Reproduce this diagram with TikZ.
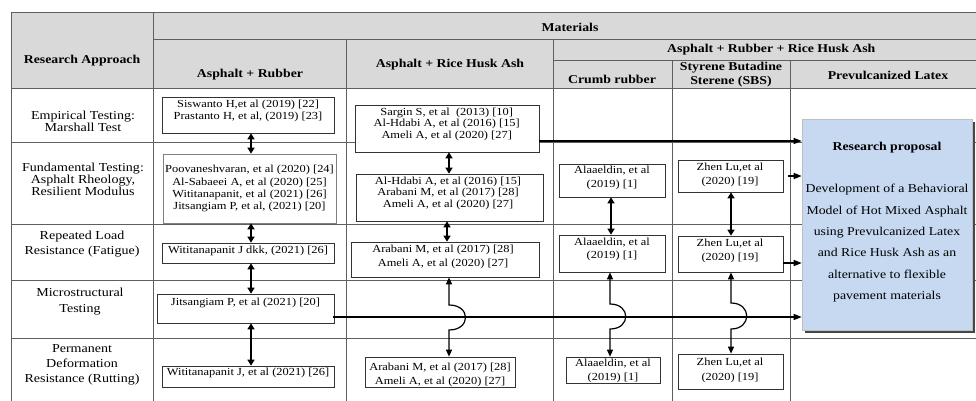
\documentclass[tikz,border=0pt]{standalone}
\usepackage{fontspec}
\setmainfont{Liberation Serif}[FakeStretch=1.15]
\usetikzlibrary{arrows.meta}
\definecolor{hdr}{RGB}{217,217,217}
\definecolor{gridc}{RGB}{95,95,95}
\definecolor{propfill}{RGB}{198,217,241}
\definecolor{shadec}{RGB}{70,70,70}
\begin{document}
\begin{tikzpicture}[x=1pt,y=-1pt,
  grid/.style={draw=gridc, line width=0.7pt},
  bx/.style={draw=black!80, fill=white, line width=0.7pt, inner sep=0pt},
  cite/.style={font=\fontsize{10.8}{12.4}\selectfont, align=center, inner sep=0pt},
  citew/.style={font=\fontsize{10.8}{14}\selectfont, align=center, inner sep=0pt},
  hd/.style={font=\bfseries\fontsize{12}{14}\selectfont, align=center, inner sep=0pt},
  lbl/.style={font=\fontsize{12.2}{13}\selectfont, align=center, inner sep=0pt},
  dbl/.style={{Triangle[length=6pt,width=7pt]}-{Triangle[length=6pt,width=7pt]}, line width=1.8pt},
  jmp/.style={{Triangle[length=7pt,width=6pt]}-{Triangle[length=7pt,width=6pt]}, line width=1.2pt},
  harr/.style={-{Triangle[length=8pt,width=6pt]}, line width=1.2pt},
  propbox/.style={fill=propfill, draw=gray!50, line width=0.6pt, inner sep=0pt}
]
\useasboundingbox (0,0) rectangle (976,401);
% header background
\fill[hdr] (11,12) rectangle (976,88);
% grid
\draw[grid] (11,12) -- (976,12);
\draw[grid] (153,39) -- (976,39);
\draw[grid] (553,60) -- (976,60);
\draw[grid] (11,88) -- (976,88);
\draw[grid] (11,142) -- (976,142);
\draw[grid] (11,224) -- (976,224);
\draw[grid] (11,280) -- (976,280);
\draw[grid] (11,338) -- (976,338);
\draw[grid] (11,12) -- (11,401);
\draw[grid] (153,12) -- (153,401);
\draw[grid] (346,39) -- (346,401);
\draw[grid] (553,39) -- (553,401);
\draw[grid] (672,60) -- (672,401);
\draw[grid] (790,60) -- (790,401);

% header texts
\node[hd] (hra) at (82,61) {Research Approach};
\node[hd] (hmat) at (570,27) {Materials};
\node[hd] (har) at (250,75) {Asphalt + Rubber};
\node[hd] (harh) at (450,65) {Asphalt + Rice Husk Ash};
\node[hd, anchor=west] (harrh) at (667,50) {Asphalt + Rubber + Rice Husk Ash};
\node[hd] (hcr) at (612,79) {Crumb rubber};
\node[hd, font=\bfseries\fontsize{12}{14}\selectfont] (hsbs) at (731,75) {Styrene Butadine\\Sterene (SBS)};
\node[hd] (hpl) at (888,75) {Prevulcanized Latex};

% row labels
\node[lbl, font=\fontsize{12.2}{10.5}\selectfont] (l1) at (83,121) {Empirical Testing:\\Marshall Test};
\node[lbl, font=\fontsize{12.2}{11.8}\selectfont] (l2) at (83,179.2) {Fundamental Testing:\\Asphalt Rheology,\\Resilient Modulus};
\node[lbl, font=\fontsize{12.2}{15.3}\selectfont] (l3) at (82,244.3) {Repeated Load\\Resistance (Fatigue)};
\node[lbl, font=\fontsize{12.2}{16}\selectfont] (l4) at (80,301.3) {Microstructural\\Testing};
\node[lbl, font=\fontsize{12.2}{14.7}\selectfont] (l5) at (82,364.7) {Permanent\\Deformation\\Resistance (Rutting)};

% research proposal
\fill[shadec] (804.5,121.5) rectangle (974.5,332.5);
\node[propbox, minimum width=170pt, minimum height=211pt] (prop) at (887,224.5) {};
\node[hd] (propt) at (887,148) {Research proposal};
\node[lbl, font=\fontsize{12}{21.3}\selectfont] (propb) at (887,243.3) {Development of a Behavioral\\Model of Hot Mixed Asphalt\\using Prevulcanized Latex\\and Rice Husk Ash as an\\alternative to flexible\\pavement materials};

% boxes: Asphalt + Rubber
\node[bx, minimum width=172pt, minimum height=36pt] (r1) at (248,115) {};
\node[bx, draw=gray, minimum width=173pt, minimum height=69pt] (r2) at (249.5,188.5) {};
\node[bx, minimum width=172pt, minimum height=20pt] (r3) at (248,253) {};
\node[bx, minimum width=177pt, minimum height=29pt] (r4) at (245.5,308.5) {};
\node[bx, minimum width=172pt, minimum height=21pt] (r5) at (248,376.5) {};
% boxes: Asphalt + RHA
\node[bx, minimum width=184pt, minimum height=47pt] (h1) at (447,128.5) {};
\node[bx, minimum width=187pt, minimum height=47pt] (h2) at (449.5,197.5) {};
\node[bx, minimum width=188pt, minimum height=35pt] (h3) at (445,259.5) {};
\node[bx, minimum width=150pt, minimum height=30pt] (h4) at (440,372) {};
% crumb rubber
\node[bx, minimum width=106pt, minimum height=33pt] (c1) at (612,180.5) {};
\node[bx, minimum width=106pt, minimum height=37pt] (c2) at (612,253.5) {};
\node[bx, minimum width=94pt, minimum height=26pt] (c3) at (613,370) {};
% SBS
\node[bx, minimum width=105pt, minimum height=32pt] (s1) at (730.5,176) {};
\node[bx, minimum width=105pt, minimum height=36pt] (s2) at (730.5,254) {};
\node[bx, minimum width=105pt, minimum height=35pt] (s3) at (730.5,371.5) {};

% texts
\node[cite] (r1t) at (248,111.2) {Siswanto H,et al (2019) [22]\\Prastanto H, et al, (2019) [23]};
\node[cite] (r2t) at (249.5,188.7) {Poovaneshvaran, et al (2020) [24]\\Al-Sabaeei A, et al (2020) [25]\\Wititanapanit, et al (2021) [26]\\Jitsangiam P, et al, (2021) [20]};
\node[cite] (r3t) at (248,250.7) {Wititanapanit J dkk, (2021) [26]};
\node[cite] (r4t) at (245.5,302.7) {Jitsangiam P, et al (2021) [20]};
\node[cite] (r5t) at (248,373.3) {Wititanapanit J, et al (2021) [26]};
\node[cite, font=\fontsize{10.8}{11.7}\selectfont] (h1t) at (446.7,124.3) {Sargin S, et al~ (2013) [10]\\Al-Hdabi A, et al (2016) [15]\\Ameli A, et al (2020) [27]};
\node[cite, font=\fontsize{10.8}{11.7}\selectfont] (h2t) at (448,193.3) {Al-Hdabi A, et al (2016) [15]\\Arabani M, et al (2017) [28]\\Ameli A, et al (2020) [27]};
\node[citew] (h3t) at (443,257) {Arabani M, et al (2017) [28]\\Ameli A, et al (2020) [27]};
\node[citew] (h4t) at (440,374.5) {Arabani M, et al (2017) [28]\\Ameli A, et al (2020) [27]};
\node[citew] (c1t) at (612,178) {Alaaeldin, et al\\(2019) [1]};
\node[citew, font=\fontsize{10.8}{12.7}\selectfont] (c2t) at (612,249.7) {Alaaeldin, et al\\(2019) [1]};
\node[citew] (c3t) at (613,371.3) {Alaaeldin, et al\\(2019) [1]};
\node[citew] (s1t) at (730,175) {Zhen Lu,et al\\(2020) [19]};
\node[citew] (s2t) at (730,251.2) {Zhen Lu,et al\\(2020) [19]};
\node[citew, font=\fontsize{10.8}{15}\selectfont] (s3t) at (730,370.8) {Zhen Lu,et al\\(2020) [19]};

% vertical double arrows
\draw[dbl] ([xshift=3pt]r1.south) -- ([xshift=1.5pt]r2.north);
\draw[dbl] ([xshift=1.5pt]r2.south) -- ([xshift=3pt]r3.north);
\draw[dbl] ([xshift=3pt]r3.south) -- ([xshift=5.5pt]r4.north);
\draw[dbl] ([xshift=5.5pt]r4.south) -- ([xshift=3pt]r5.north);
\draw[dbl] ([xshift=2pt]h1.south) -- ([xshift=-0.5pt]h2.north);
\draw[dbl] ([xshift=-2.5pt]h2.south) -- ([xshift=2pt]h3.north);
\draw[dbl] ([xshift=-1pt]c1.south) -- ([xshift=-1pt]c2.north);
\draw[dbl] ([xshift=0.5pt]s1.south) -- ([xshift=0.5pt]s2.north);

% jump arrows over the microstructural line
\coordinate (ja1) at (449,305);
\coordinate (ja2) at (449,330);
\draw[jmp] (h3.south -| ja1) -- (ja1) .. controls (471,305) and (471,330) .. (ja2) -- (h4.north -| ja2);
\coordinate (jb1) at (610,304);
\coordinate (jb2) at (610,329);
\draw[jmp] (c2.south -| jb1) -- (jb1) .. controls (631,304) and (631,329) .. (jb2) -- (c3.north -| jb2);
\coordinate (jc1) at (731,303);
\coordinate (jc2) at (731,329);
\draw[jmp] (s2.south -| jc1) -- (jc1) .. controls (752,303) and (752,329) .. (jc2) -- (s3.north -| jc2);

% horizontal arrows into the proposal
\coordinate (a1) at (700,141);
\draw[harr] (h1.east |- a1) -- (prop.west |- a1);
\draw[harr, shorten <=5pt] (s1.east) -- (prop.west |- s1.east);
\coordinate (a3) at (790,263);
\draw[harr] (s2.east |- a3) -- (prop.west |- a3);
\coordinate (a4) at (700,317);
\draw[harr] ([xshift=-1pt]r4.east |- a4) -- (prop.west |- a4);
\end{tikzpicture}
\end{document}
